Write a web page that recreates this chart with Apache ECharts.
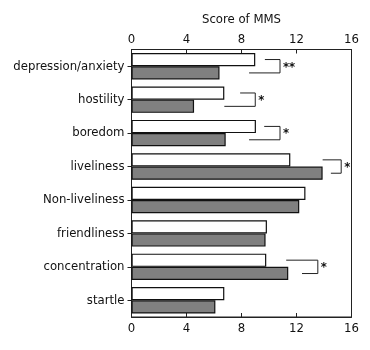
<!DOCTYPE html>
<html><head><meta charset="utf-8">
<script src="https://cdn.jsdelivr.net/npm/echarts@6/dist/echarts.min.js"></script>
<style>html,body{margin:0;padding:0;background:#fff}#c{width:370px;height:350px}</style>
</head><body><div id="c"></div>
<script>
var categories = ['depression/anxiety','hostility','boredom','liveliness','Non-liveliness','friendliness','concentration','startle'];
var whiteValues = [9.0, 6.75, 9.05, 11.55, 12.65, 9.85, 9.8, 6.75];
var grayValues  = [6.4, 4.55, 6.85, 13.9, 12.2, 9.75, 11.4, 6.1];
var xTicks = [0, 4, 8, 12, 16];
// significance brackets: category index, top-line start, bottom-line start, right edge, mark
var bracketCat   = [0, 1, 2, 3, 6];
var bracketTop   = [9.7, 7.9, 9.65, 13.9, 11.25];
var bracketBot   = [8.55, 6.75, 8.55, 14.5, 12.4];
var bracketRight = [10.8, 9.0, 10.8, 15.25, 13.55];
var bracketMark  = ['**', '*', '*', '*', '*'];

var FONT = '"DejaVu Sans Condensed", "DejaVu Sans", sans-serif';
var bracketData = bracketCat.map(function(c, i){ return [bracketTop[i], c, bracketBot[i], bracketRight[i], bracketMark[i]]; });

var chart = echarts.init(document.getElementById('c'), null, {renderer:'canvas'});
var xAxisBase = {
  type:'value', min:xTicks[0], max:xTicks[xTicks.length-1], interval:xTicks[1]-xTicks[0],
  axisLine:{show:true, lineStyle:{color:'#222', width:1}},
  axisTick:{show:true, inside:true, length:4, lineStyle:{color:'#222'}},
  splitLine:{show:false}
};
chart.setOption({
  animation:false,
  grid:{left:131.5, right:18.5, top:49.5, bottom:33, show:true, borderColor:'#222', borderWidth:1, backgroundColor:'transparent'},
  xAxis:[
    Object.assign({}, xAxisBase, {position:'bottom',
      axisLabel:{color:'#111', fontSize:13, fontFamily:FONT, margin:5}}),
    Object.assign({}, xAxisBase, {position:'top', name:'Score of MMS', nameLocation:'middle', nameGap:23,
      axisLabel:{color:'#111', fontSize:13, fontFamily:FONT, margin:3},
      nameTextStyle:{color:'#111', fontSize:13, fontFamily:FONT}})
  ],
  yAxis:{
    type:'category', data:categories, inverse:true,
    axisLine:{show:true, lineStyle:{color:'#222'}},
    axisTick:{show:true, alignWithLabel:true, length:4, lineStyle:{color:'#222'}},
    axisLabel:{color:'#111', fontSize:13, fontFamily:FONT, margin:7, interval:0}
  },
  series:[
    {type:'bar', data:whiteValues, barGap:'0%', barCategoryGap:'21%',
      itemStyle:{color:'#fff', borderColor:'#111', borderWidth:1.2}},
    {type:'bar', data:grayValues,
      itemStyle:{color:'#808080', borderColor:'#111', borderWidth:1.2}},
    {type:'custom', data:bracketData, encode:{x:0, y:1}, z:5,
      renderItem:function(params, api){
        var cat = api.value(1);
        var center = api.coord([0, cat])[1];
        var band = api.size([0, 1])[1];
        var yT = center - band*0.2, yB = center + band*0.2;
        var xT = api.coord([api.value(0), cat])[0];
        var xB = api.coord([api.value(2), cat])[0];
        var xR = api.coord([api.value(3), cat])[0];
        return {type:'group', children:[
          {type:'polyline', shape:{points:[[xT,yT],[xR,yT],[xR,yB],[xB,yB]]},
            style:{stroke:'#222', lineWidth:1, fill:null}},
          {type:'text', x:xR+3, y:center+1, style:{text:bracketData[params.dataIndex][4],
            fill:'#111', font:'bold 13px ' + FONT, verticalAlign:'middle', align:'left'}}
        ]};
      }}
  ]
});
</script></body></html>
